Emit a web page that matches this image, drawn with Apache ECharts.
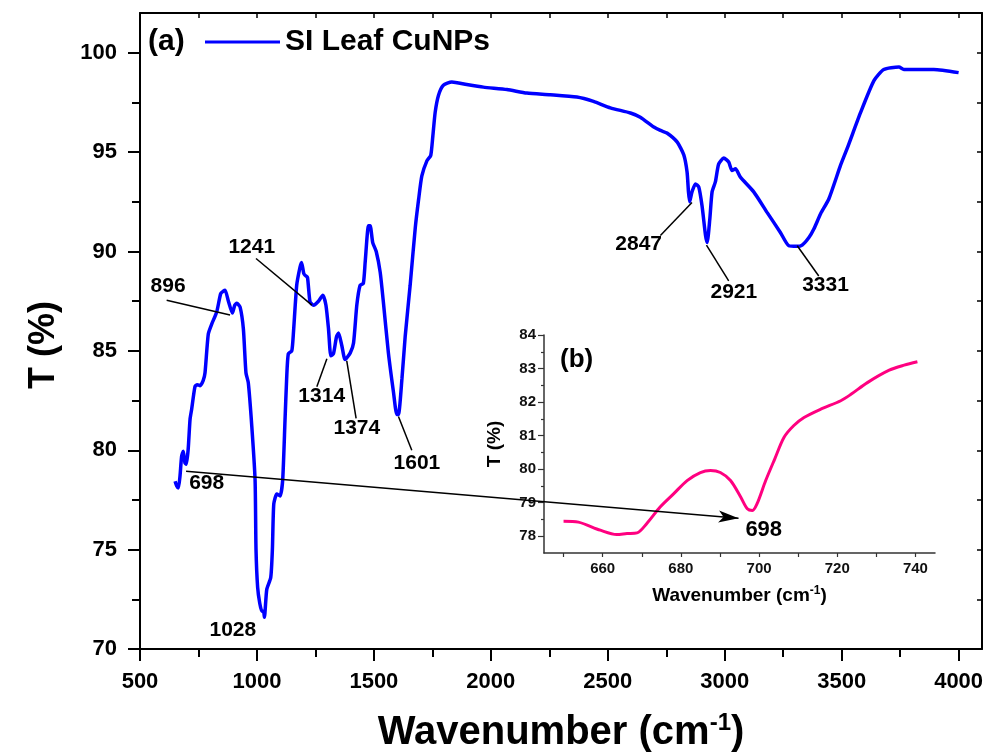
<!DOCTYPE html>
<html>
<head>
<meta charset="utf-8">
<script src="https://cdn.jsdelivr.net/npm/echarts@6/dist/echarts.min.js"></script>
<style>html,body{margin:0;padding:0;background:#fff;overflow:hidden;}#chart{width:987px;height:755px;}</style>
</head>
<body>
<div id="chart"></div>
<script>
// ---------- DATA ----------
const seriesName = 'SI Leaf CuNPs';
const mainWavenumber = [650,657,664,671,678,685,692,698,706,714,721,735,745,757,770,778,792,807,828,845,856,864,878,895,905,914,928,942,953,963,978,992,996,1003,1012,1021,1028,1032,1042,1059,1066,1072,1085,1099,1110,1120,1127,1134,1149,1156,1170,1184,1191,1200,1206,1216,1227,1242,1263,1282,1295,1306,1316,1327,1340,1349,1363,1377,1399,1413,1427,1441,1455,1463,1477,1484,1495,1510,1527,1541,1562,1584,1598,1605,1620,1634,1655,1677,1691,1705,1727,1743,1752,1762,1776,1797,1833,1897,1968,2069,2154,2254,2368,2439,2511,2597,2639,2697,2725,2753,2797,2825,2839,2845,2850,2860,2875,2889,2903,2918,2925,2936,2946,2960,2974,2996,3017,3031,3046,3067,3124,3181,3238,3274,3310,3331,3360,3381,3410,3445,3495,3524,3581,3638,3680,3745,3766,3894,4000];
const mainTransmittance = [78.44,78.2,78.1,78.7,79.7,79.95,79.37,79.3,80.05,81.56,82.07,83.2,83.3,83.25,83.5,83.9,85.85,86.36,86.96,87.88,88.0,88.05,87.5,86.9,87.3,87.4,87.2,86.1,83.9,83.4,81.2,78.5,75,73.1,72.3,71.9,71.9,71.6,73,73.6,75,77.3,77.8,77.7,78.5,81.5,83.6,84.85,85.0,85.9,88.3,89.2,89.45,88.9,88.8,88.7,87.46,87.3,87.5,87.8,87.3,86.1,84.75,84.85,85.7,85.9,85.26,84.56,84.9,85.4,87.3,88.3,88.4,89.5,91.3,91.3,90.45,90.0,88.95,87.4,84.9,82.9,81.8,81.8,83.6,85.75,88.3,91.2,92.6,93.8,94.57,94.83,95.8,97.0,97.85,98.36,98.53,98.4,98.27,98.15,97.97,97.89,97.77,97.55,97.23,96.97,96.76,96.26,96.09,95.96,95.5,94.86,94.0,93.0,92.5,93.0,93.4,93.25,92.3,90.8,90.45,91.6,93.0,93.5,94.4,94.7,94.5,94.07,94.16,93.74,93.0,91.97,90.96,90.29,90.26,90.32,90.7,91.13,91.9,92.64,94.33,95.2,97.0,98.6,99.16,99.28,99.16,99.16,99.0];

const insetWavenumber = [650,653.8,659.4,663.6,666.2,668.8,671.3,674.7,678.2,681.6,685,687.6,690.1,692.7,695.3,697,698.3,699.5,701.7,704,706.4,708.9,711.5,715.8,720.9,723.5,727.7,733.3,737.1,740.5];
const insetTransmittance = [78.45,78.42,78.18,78.05,78.08,78.1,78.38,78.87,79.27,79.66,79.9,79.96,79.9,79.66,79.17,78.82,78.77,78.97,79.66,80.3,80.95,81.3,81.54,81.79,82.04,82.23,82.58,82.95,83.1,83.2];

// tick values
const mainXTicks = [500,1000,1500,2000,2500,3000,3500,4000];
const mainXMinor = [750,1250,1750,2250,2750,3250,3750];
const mainXTop = [500,750,1000,1250,1500,1750,2000,2250,2500,2750,3000,3250,3500,3750,4000];
const mainYTicks = [70,75,80,85,90,95,100];
const mainYMinor = [72.5,77.5,82.5,87.5,92.5,97.5];
const mainYRight = [70,72.5,75,77.5,80,82.5,85,87.5,90,92.5,95,97.5,100];
const insetXTicks = [650,660,670,680,690,700,710,720,730,740];
const insetXLabels = [660,680,700,720,740];
const insetYTicks = [78,79,80,81,82,83,84];
const insetYMinor = [78.5,79.5,80.5,81.5,82.5,83.5];

// peak annotations: [text, labelWavenumber, labelT]
const peakLabels = [['896',620,88.27],['1241',978,90.2],['1314',1277,82.72],['1374',1427,81.13],['1601',1684,79.36],['698',785,78.36],['1028',897,70.96],['2847',2632,90.37],['2921',3039,87.94],['3331',3431,88.3]];
// leader lines: [from, to] in main data coords
const leaderLines = [[[614,87.55],[885,86.8]],[[996,89.65],[1235,87.3]],[[1256,83.2],[1299,84.6]],[[1384,84.5],[1424,81.6]],[[1605,81.7],[1662,80.0]],[[2725,90.8],[2860,92.47]],[[2922,90.32],[3017,88.52]],[[3310,90.29],[3402,88.77]]];
const arrowLine = [[697,78.94],[3059,76.58]];
const insetPeakLabel = ['698',701.2,78.18];

// ---------- CHART ----------
const FONT = 'Liberation Sans, Arial, sans-serif';
const zip = (a,b) => a.map((v,i)=>[v,b[i]]);
const plain = v => String(v);
const chart = echarts.init(document.getElementById('chart'), null, {renderer:'canvas'});

const blackLine = {show:true, onZero:false, lineStyle:{color:'#000', width:2}};
const insetLine = {show:true, onZero:false, lineStyle:{color:'#333', width:1.5}};

const option = {
  animation:false,
  backgroundColor:'#fff',
  textStyle:{fontFamily:FONT},
  title:[
    {text:'(a)', left:148, top:27, padding:0, textStyle:{fontSize:30, fontWeight:'bold', color:'#000', fontFamily:FONT}},
    {text:'(b)', left:560, top:347, padding:0, textStyle:{fontSize:26, fontWeight:'bold', color:'#000', fontFamily:FONT}}
  ],
  legend:{
    data:[{name:seriesName, icon:'rect'}], left:205, top:27, padding:0, itemWidth:75, itemHeight:3,
    textStyle:{fontSize:30, fontWeight:'bold', color:'#000', fontFamily:FONT}
  },
  grid:[
    {left:140, top:13, right:5, bottom:106, containLabel:false, outerBoundsMode:'none'},
    {left:544, top:335, right:52, bottom:202, containLabel:false, outerBoundsMode:'none'}
  ],
  xAxis:[
    {type:'value', gridIndex:0, position:'bottom', min:500, max:4100,
     axisLine:blackLine, splitLine:{show:false},
     axisTick:{show:true, customValues:mainXTicks, length:12, inside:false, lineStyle:{color:'#000', width:2}},
     axisLabel:{show:true, customValues:mainXTicks, formatter:plain, margin:22, fontSize:22, fontWeight:'bold', color:'#000', fontFamily:FONT},
     name:'Wavenumber (cm{sup|-1})', nameLocation:'middle', nameGap:62,
     nameTextStyle:{fontSize:40, fontWeight:'bold', color:'#000', fontFamily:FONT, lineHeight:44,
       rich:{sup:{fontSize:24, fontWeight:'bold', color:'#000', fontFamily:FONT, verticalAlign:'top', lineHeight:44, padding:[0,0,20,0]}}}
    },
    {type:'value', gridIndex:0, position:'bottom', min:500, max:4100,
     axisLine:{show:false, onZero:false}, splitLine:{show:false}, axisLabel:{show:false},
     axisTick:{show:true, customValues:mainXMinor, length:8, lineStyle:{color:'#000', width:2}}
    },
    {type:'value', gridIndex:0, position:'top', min:500, max:4100,
     axisLine:blackLine, splitLine:{show:false}, axisLabel:{show:false},
     axisTick:{show:true, customValues:mainXTop, length:5, inside:true, lineStyle:{color:'#000', width:1.5}}
    },
    {type:'value', gridIndex:1, position:'bottom', min:645, max:745,
     axisLine:insetLine, splitLine:{show:false},
     axisTick:{show:true, customValues:insetXTicks, length:4, lineStyle:{color:'#333', width:1.2}},
     axisLabel:{show:true, customValues:insetXLabels, formatter:plain, margin:8, fontSize:15, fontWeight:'bold', color:'#111', fontFamily:FONT},
     name:'Wavenumber (cm{sup|-1})', nameLocation:'middle', nameGap:32,
     nameTextStyle:{fontSize:19, fontWeight:'bold', color:'#000', fontFamily:FONT, lineHeight:22,
       rich:{sup:{fontSize:12, fontWeight:'bold', color:'#000', fontFamily:FONT, verticalAlign:'top', lineHeight:22, padding:[0,0,9,0]}}}
    }
  ],
  yAxis:[
    {type:'value', gridIndex:0, position:'left', min:70, max:102,
     axisLine:blackLine, splitLine:{show:false},
     axisTick:{show:true, customValues:mainYTicks, length:12, lineStyle:{color:'#000', width:2}},
     axisLabel:{show:true, customValues:mainYTicks, formatter:plain, margin:23, fontSize:22, fontWeight:'bold', color:'#000', fontFamily:FONT},
     name:'T (%)', nameLocation:'middle', nameGap:78,
     nameTextStyle:{fontSize:36, fontWeight:'bold', color:'#000', fontFamily:FONT, padding:[0,28,0,0]}
    },
    {type:'value', gridIndex:0, position:'left', min:70, max:102,
     axisLine:{show:false, onZero:false}, splitLine:{show:false}, axisLabel:{show:false},
     axisTick:{show:true, customValues:mainYMinor, length:8, lineStyle:{color:'#000', width:2}}
    },
    {type:'value', gridIndex:0, position:'right', min:70, max:102,
     axisLine:blackLine, splitLine:{show:false}, axisLabel:{show:false},
     axisTick:{show:true, customValues:mainYRight, length:5, inside:true, lineStyle:{color:'#000', width:1.5}}
    },
    {type:'value', gridIndex:1, position:'left', min:77.5, max:84,
     axisLine:insetLine, splitLine:{show:false},
     axisTick:{show:true, customValues:insetYTicks, length:6, lineStyle:{color:'#333', width:1.2}},
     axisLabel:{show:true, customValues:insetYTicks, formatter:plain, margin:8, fontSize:15, fontWeight:'bold', color:'#111', fontFamily:FONT},
     name:'T (%)', nameLocation:'middle', nameGap:40,
     nameTextStyle:{fontSize:19, fontWeight:'bold', color:'#000', fontFamily:FONT}
    },
    {type:'value', gridIndex:1, position:'left', min:77.5, max:84,
     axisLine:{show:false, onZero:false}, splitLine:{show:false}, axisLabel:{show:false},
     axisTick:{show:true, customValues:insetYMinor, length:3, lineStyle:{color:'#333', width:1.2}}
    }
  ],
  series:[
    {
      name:seriesName, type:'line', xAxisIndex:0, yAxisIndex:0,
      data:zip(mainWavenumber, mainTransmittance),
      showSymbol:false, symbol:'none', smooth:0.2, z:3,
      lineStyle:{color:'#0000FF', width:3.5}, itemStyle:{color:'#0000FF'},
      markLine:{
        silent:true, animation:false, symbol:['none','none'],
        label:{show:false}, emphasis:{disabled:true},
        lineStyle:{color:'#000', width:1.5, type:'solid'},
        data: leaderLines.map(l => [{coord:l[0]},{coord:l[1]}]).concat([
          [{coord:arrowLine[0], symbol:'none'},{coord:arrowLine[1], symbol:'arrow', symbolSize:[9,20]}]
        ])
      }
    },
    {
      name:'labels', type:'scatter', xAxisIndex:0, yAxisIndex:0, symbolSize:0, silent:true, z:5,
      itemStyle:{opacity:1},
      data: peakLabels.map(p => ({name:p[0], value:[p[1],p[2]]})),
      label:{show:true, position:'inside', formatter:'{b}', fontSize:21, fontWeight:'bold', color:'#000', opacity:1, textBorderWidth:0, fontFamily:FONT}
    },
    {
      name:'inset', type:'line', xAxisIndex:3, yAxisIndex:3,
      data:zip(insetWavenumber, insetTransmittance),
      showSymbol:false, symbol:'none', smooth:0.3, z:3,
      lineStyle:{color:'#FF0080', width:3}, itemStyle:{color:'#FF0080'}
    },
    {
      name:'insetLabel', type:'scatter', xAxisIndex:3, yAxisIndex:3, symbolSize:0, silent:true, z:5,
      itemStyle:{opacity:1},
      data:[{name:insetPeakLabel[0], value:[insetPeakLabel[1], insetPeakLabel[2]]}],
      label:{show:true, position:'inside', formatter:'{b}', fontSize:22, fontWeight:'bold', color:'#000', opacity:1, textBorderWidth:0, fontFamily:FONT}
    }
  ]
};
chart.setOption(option);
</script>
</body>
</html>
